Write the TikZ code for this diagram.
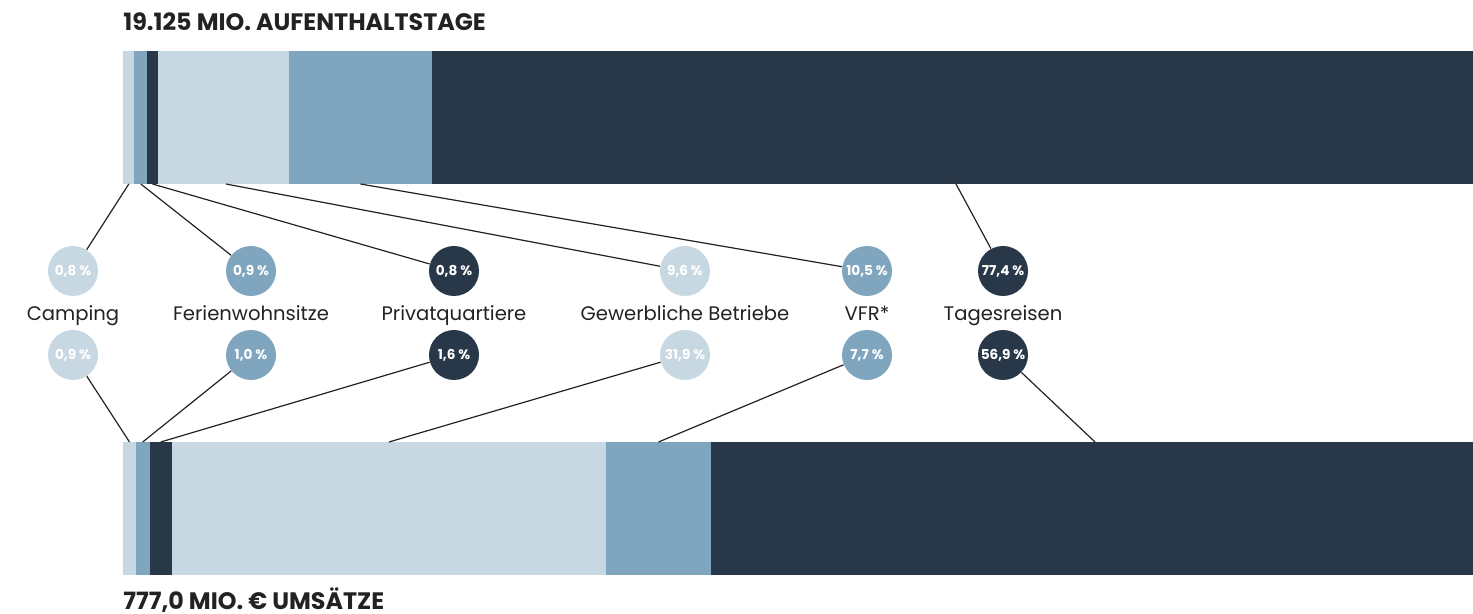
\documentclass[tikz,border=0pt]{standalone}
\usepackage{fontspec}
\setmainfont{Poppins}
\usetikzlibrary{positioning}

\definecolor{barlight}{HTML}{C7D8E2}
\definecolor{barmid}{HTML}{7FA6BE}
\definecolor{bardark}{HTML}{283848}
\definecolor{ink}{HTML}{222222}

\tikzset{
    share/.style={circle, minimum size=25pt, inner sep=0pt, text=white, font=\fontsize{6.8}{7}\selectfont\bfseries},
    kind/.style={anchor=base, font=\fontsize{9.8}{11}\selectfont, text=ink},
    link/.style={line width=0.6pt, draw=ink},
    heading/.style={anchor=base west, inner sep=0pt, text depth=0pt, font=\fontsize{11.9}{13}\selectfont\bfseries, text=ink}
}

\begin{document}
\begin{tikzpicture}[x=0.5pt, y=-0.5pt]

    \useasboundingbox (0,0) rectangle (1473,614);

    %% Aufenthaltstage

    % Heading
    \node[heading] (daystitle) at (123,31) {19.125 MIO. AUFENTHALTSTAGE};

    % Bar
    \fill[barlight] (123,51) rectangle (134.3,184);
    \fill[barmid] (134.3,51) rectangle (147.3,184);
    \fill[bardark] (147.3,51) rectangle (157.7,184);
    \fill[barlight] (157.7,51) rectangle (289,184);
    \fill[barmid] (289,51) rectangle (432,184);
    \fill[bardark] (432,51) rectangle (1473,184);

    % Segment anchors
    \coordinate (dcamp) at (128.8,184);
    \coordinate (dferien) at (140.8,184);
    \coordinate (dprivat) at (152.5,184);
    \coordinate (dgewerbe) at (226,184);
    \coordinate (dvfr) at (360.5,184);
    \coordinate (dtages) at (956,184);

    % Shares
    \node[share, fill=barlight] (scamp) at (73,271) {0,8 \%};
    \node[share, fill=barmid] (sferien) at (251,271) {0,9 \%};
    \node[share, fill=bardark] (sprivat) at (454,271) {0,8 \%};
    \node[share, fill=barlight] (sgewerbe) at (685,271) {9,6 \%};
    \node[share, fill=barmid] (svfr) at (867,271) {10,5 \%};
    \node[share, fill=bardark] (stages) at (1003,271) {77,4 \%};

    % Links
    \draw[link] (dcamp) -- (scamp);
    \draw[link] (dferien) -- (sferien);
    \draw[link] (dprivat) -- (sprivat);
    \draw[link] (dgewerbe) -- (sgewerbe);
    \draw[link] (dvfr) -- (svfr);
    \draw[link] (dtages) -- (stages);

    %% Categories

    \node[kind] (camping) at (73,321) {Camping};
    \node[kind] (ferien) at (251,321) {Ferienwohnsitze};
    \node[kind] (privat) at (454,321) {Privatquartiere};
    \node[kind] (gewerbe) at (685,321) {Gewerbliche Betriebe};
    \node[kind] (vfr) at (867,321) {VFR*};
    \node[kind] (tages) at (1003,321) {Tagesreisen};

    %% Umsaetze

    % Shares
    \node[share, fill=barlight] (ucamp) at (73,355) {0,9 \%};
    \node[share, fill=barmid] (uferien) at (251,355) {1,0 \%};
    \node[share, fill=bardark] (uprivat) at (454,355) {1,6 \%};
    \node[share, fill=barlight] (ugewerbe) at (685,355) {31,9 \%};
    \node[share, fill=barmid] (uvfr) at (867,355) {7,7 \%};
    \node[share, fill=bardark] (utages) at (1003,355) {56,9 \%};

    % Bar
    \fill[barlight] (123,442) rectangle (135.7,575);
    \fill[barmid] (135.7,442) rectangle (149.7,575);
    \fill[bardark] (149.7,442) rectangle (171.7,575);
    \fill[barlight] (171.7,442) rectangle (606,575);
    \fill[barmid] (606,442) rectangle (711,575);
    \fill[bardark] (711,442) rectangle (1473,575);

    % Segment anchors
    \coordinate (rcamp) at (129.5,442);
    \coordinate (rferien) at (142.7,442);
    \coordinate (rprivat) at (160.7,442);
    \coordinate (rgewerbe) at (389,442);
    \coordinate (rvfr) at (658.5,442);
    \coordinate (rtages) at (1095,442);

    % Links
    \draw[link] (ucamp) -- (rcamp);
    \draw[link] (uferien) -- (rferien);
    \draw[link] (uprivat) -- (rprivat);
    \draw[link] (ugewerbe) -- (rgewerbe);
    \draw[link] (uvfr) -- (rvfr);
    \draw[link] (utages) -- (rtages);

    % Heading
    \node[heading] (salestitle) at (123,610) {777,0 MIO. € UMSÄTZE};

\end{tikzpicture}
\end{document}
